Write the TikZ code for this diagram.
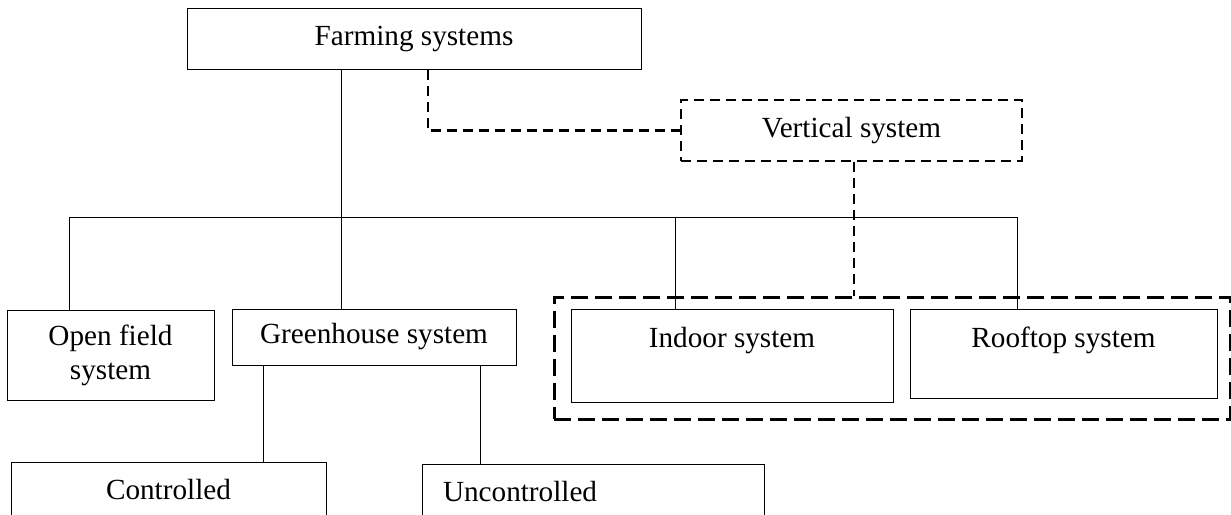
\documentclass[tikz,border=0pt]{standalone}
\usepackage{fontspec}
\setmainfont{Liberation Serif}
\begin{document}
\begin{tikzpicture}[x=0.5pt, y=-0.5pt, font=\fontsize{14.6}{17}\selectfont,
	box/.style={draw, line width=0.5pt, inner sep=0pt, align=center},
	vbox/.style={box, line width=1.3pt, dash pattern=on 5pt off 3pt},
	wire/.style={line width=0.5pt},
	dwire/.style={line width=1.3pt, dash pattern=on 5pt off 3pt}]
	\clip (0,0) rectangle (1231,514);
	\node[box, minimum width=227pt, minimum height=30.5pt] (farm) at (414,38.5) {Farming systems};
	\node[vbox, minimum width=170.5pt, minimum height=30.5pt] (vert) at (851.5,130.5) {Vertical system};
	\node[box, minimum width=103.5pt, minimum height=45pt] (open) at (110.5,355) {Open field\\system};
	\node[box, minimum width=142pt, minimum height=28pt] (green) at (374,337) {Greenhouse system};
	\node[draw, line width=1.5pt, dash pattern=on 8.5pt off 3.5pt, minimum width=338pt, minimum height=61pt, inner sep=0pt] (grp) at (892,358) {};
	\node[box, minimum width=161pt, text height=19pt, text depth=27.5pt] (indoor) at (732,355.5) {Indoor system};
	\node[box, minimum width=153.5pt, text height=19pt, text depth=25.5pt] (roof) at (1063.5,353.5) {Rooftop system};
	\node[box, minimum width=157.5pt, minimum height=28pt] (ctrl) at (168.5,490) {Controlled};
	\node[box, text width=150pt, inner xsep=10.5pt, align=left, minimum height=28pt] (unctrl) at (593,492) {Uncontrolled};
	% tree lines
	\coordinate (d1) at (69,217);
	\coordinate (d2) at (341,217);
	\coordinate (d3) at (675,217);
	\coordinate (d4) at (1017,217);
	\draw[wire] (d1) -- (d4);
	\draw[wire] (farm.south -| d2) -- (green.north -| d2);
	\draw[wire] (d1) -- (open.north -| d1);
	\draw[wire] (d3) -- (indoor.north -| d3);
	\draw[wire] (d4) -- (roof.north -| d4);
	\draw[wire] (green.south -| 263,0) -- (ctrl.north -| 263,0);
	\draw[wire] (green.south -| 480,0) -- (unctrl.north -| 480,0);
	% dashed links
	\draw[dwire] (farm.south -| 428,0) -- (428,130.5) -- (vert.west);
	\draw[dwire] ([xshift=1.25pt]vert.south) -- ([xshift=1.25pt]vert.south |- grp.north);
\end{tikzpicture}
\end{document}
